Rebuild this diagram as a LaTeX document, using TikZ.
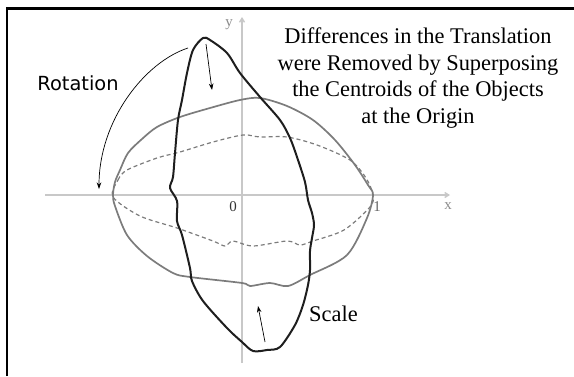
\documentclass[tikz,border=0pt]{standalone}
\usepackage{fontspec}
\setmainfont{Liberation Serif}
\newfontfamily\rotfont{DejaVu Sans}
\usepackage{xcolor}
\usetikzlibrary{arrows.meta,positioning}
\definecolor{axisgray}{HTML}{C8C8C8}
\definecolor{labgray}{HTML}{8A8A8A}
\definecolor{outgray}{HTML}{7C7C7C}
\definecolor{curveblk}{HTML}{1E1E1E}
\tikzset{
  axisline/.style={axisgray,line width=1.4bp,-{Straight Barb[length=4bp,width=5bp]}},
  axislab/.style={labgray,font=\fontsize{15}{15}\selectfont,inner sep=0pt},
  wideobj/.style={outgray,line width=1.7bp,line join=round},
  dashobj/.style={outgray,line width=1.2bp,dash pattern=on 4bp off 3bp},
  tallobj/.style={curveblk,line width=2bp,line join=round},
  marr/.style={-{Stealth[length=6.5bp,width=4.5bp]},line width=0.7bp},
}
\begin{document}
\begin{tikzpicture}[x=1bp,y=-1bp]
\useasboundingbox (0,0) rectangle (574,376);
% frame (only top and left edges show)
\draw[line width=2.7bp] (7,376) -- (7,8.7) -- (574,8.7);
% axes
\coordinate (xs) at (45,195);
\coordinate (xe) at (450,195);
\coordinate (ys) at (242,363);
\coordinate (ye) at (242,17);
\draw[axisline] (xs) -- (xe);
\draw[axisline] (ys) -- (ye);
\node[axislab] (ylab) at (229,25) {y};
\node[axislab] (xlab) at (448,206) {x};
\node[axislab,text=black!80] (zero) at (233,207) {0};
\node[axislab,text=black!60] (one) at (377,207) {1};
% wide object (gray solid)
\draw[wideobj] plot[smooth cycle,tension=0.5] coordinates
  {(113,195)(115,182)(120,170)(128,153)(142,139)(157,127)(180,117)(210,108)
   (240,100)(260,98)(287,106)(313,120)(335,140)(355,165)(368,185)(373,195)
   (367,218)(347,255)(310,275)(288,286)(270,283)(250,286)(242,283)(190,277)
   (173,273)(147,256)(127,235)(115,206)};
% dashed object
\draw[dashobj] plot[smooth cycle,tension=0.5] coordinates
  {(113,197)(118,180)(127,170)(157,158)(180,152)(213,142)(243,135)(260,137)
   (287,137)(317,145)(350,160)(366,178)(373,195)(370,207)(344,230)(313,241)
   (300,245)(287,241)(253,246)(233,241)(225,246)(213,241)(177,228)(140,216)};
% tall object (black)
\draw[tallobj] plot[smooth cycle,tension=0.5] coordinates
  {(203,38)(210,40)(227,53)(240,73)(260,97)(280,120)(290,138)(297,157)
   (305,182)(308,200)(312,213)(314,225)(312,238)(310,251)(310,270)(308,285)
   (303,305)(295,325)(280,347)(267,350)(253,351)(242,342)(227,328)(203,301)
   (192,281)(190,268)(182,235)(177,221)(177,201)(170,188)(173,177)(175,153)
   (178,120)(182,100)(187,73)(193,50)};
% rotation arrow
\coordinate (rots) at (188,48);
\coordinate (rote) at (99,189);
\draw[marr] (rots) .. controls (145,62) and (99,120) .. (rote);
\node[font=\rotfont\fontsize{19.5}{20}\selectfont] (rot) at (78,83) {Rotation};
% scale arrows
\coordinate (sa1) at (206,44);
\coordinate (sa2) at (212,90);
\draw[marr] (sa1) -- (sa2);
\coordinate (sb1) at (265,342);
\coordinate (sb2) at (258,306);
\draw[marr] (sb1) -- (sb2);
\node[font=\fontsize{22.5}{22.5}\selectfont,anchor=base west,inner sep=0pt] (scale) at (309,321) {Scale};
% translation note
\node[font=\fontsize{22.5}{26.7}\selectfont,align=center,inner sep=0pt] (note) at (418,78)
  {Differences in the Translation\\were Removed by Superposing\\the Centroids of the Objects\\at the Origin};
\end{tikzpicture}
\end{document}
